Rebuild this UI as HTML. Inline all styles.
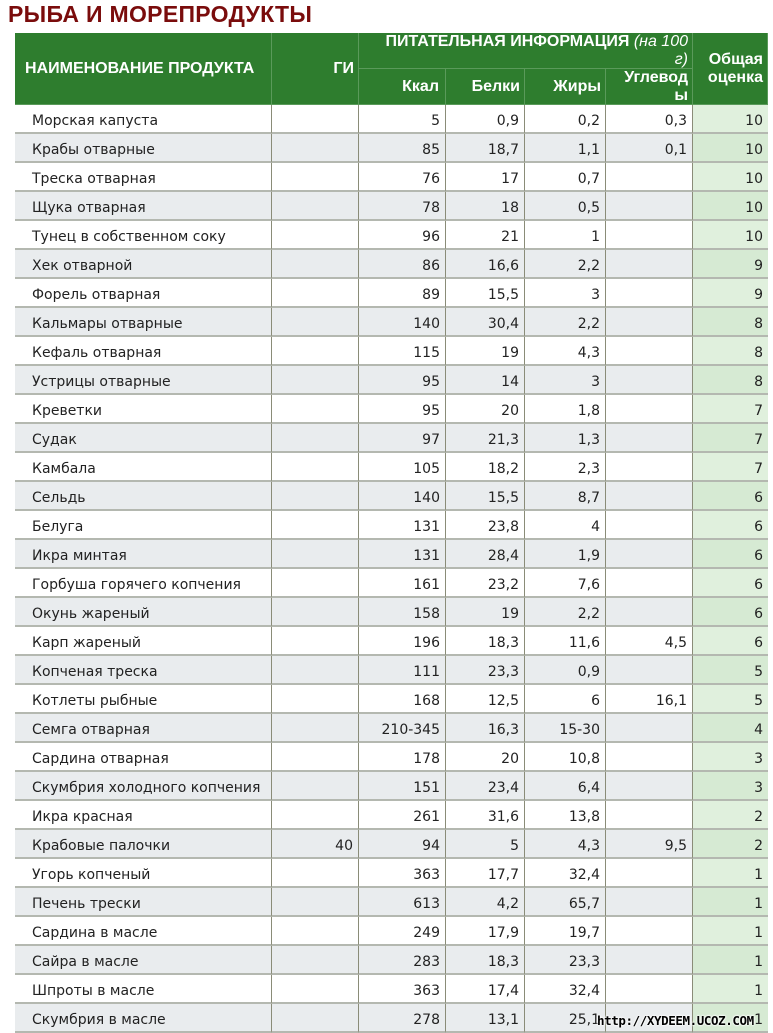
<!DOCTYPE html>
<html><head><meta charset="utf-8">
<style>
body{margin:0;width:773px;height:1031px;overflow:hidden;background:#fff;position:relative;font-family:"DejaVu Sans","Liberation Sans",sans-serif}
#title{position:absolute;left:8px;top:1px;font:bold 23px "Liberation Sans",sans-serif;color:#7a0c0c;letter-spacing:0.3px}
.hd{position:absolute;background:#2e7d2e;color:#fff;font:bold 16px "Liberation Sans",sans-serif;box-sizing:border-box;border-right:1px solid #5a9a5a;border-bottom:1px solid #5a9a5a;white-space:nowrap}
.c{position:absolute;box-sizing:border-box;height:29px;padding-top:4px;line-height:25px;font-size:14px;color:#222;border-bottom:2px solid #b4b8b0;border-right:1px solid #8a8c78;padding-left:5px;padding-right:5px;white-space:nowrap;overflow:hidden}
#wm{position:absolute;left:597px;top:1013px;font:bold 12.5px "DejaVu Sans Mono",monospace;color:#000;text-shadow:0 0 2px #fff,0 0 2px #fff,0 0 2px #fff;letter-spacing:-0.4px}
</style></head><body>
<div id="title">РЫБА И МОРЕПРОДУКТЫ</div>
<div class="hd" style="left:15px;top:33px;width:257px;height:72px;padding:27px 0 0 10px">НАИМЕНОВАНИЕ ПРОДУКТА</div>
<div class="hd" style="left:272px;top:33px;width:87px;height:72px;padding:27px 4px 0 0;text-align:right">ГИ</div>
<div class="hd" style="left:359px;top:33px;width:334px;height:36px;padding:0 4px 0 10px;text-align:right;line-height:18px">ПИТАТЕЛЬНАЯ ИНФОРМАЦИЯ <i style="font-weight:normal">(на 100<br>г)</i></div>
<div class="hd" style="left:359px;top:69px;width:87px;height:36px;padding:9px 6px 0 0;text-align:right">Ккал</div>
<div class="hd" style="left:446px;top:69px;width:79px;height:36px;padding:9px 4px 0 0;text-align:right">Белки</div>
<div class="hd" style="left:525px;top:69px;width:81px;height:36px;padding:9px 4px 0 0;text-align:right">Жиры</div>
<div class="hd" style="left:606px;top:69px;width:87px;height:36px;padding:0 4px 0 0;text-align:right;line-height:18px">Углевод<br>ы</div>
<div class="hd" style="left:693px;top:33px;width:75px;height:72px;padding:18px 4px 0 0;text-align:right;line-height:18px">Общая<br>оценка</div>
<div id="rows"></div>
<div id="wm">http://XYDEEM.UCOZ.COM</div>
<script>
const names=["Морская капуста","Крабы отварные","Треска отварная","Щука отварная","Тунец в собственном соку","Хек отварной","Форель отварная","Кальмары отварные","Кефаль отварная","Устрицы отварные","Креветки","Судак","Камбала","Сельдь","Белуга","Икра минтая","Горбуша горячего копчения","Окунь жареный","Карп жареный","Копченая треска","Котлеты рыбные","Семга отварная","Сардина отварная","Скумбрия холодного копчения","Икра красная","Крабовые палочки","Угорь копченый","Печень трески","Сардина в масле","Сайра в масле","Шпроты в масле","Скумбрия в масле"];
const gi=["","","","","","","","","","","","","","","","","","","","","","","","","","40","","","","","",""];
const kcal=["5","85","76","78","96","86","89","140","115","95","95","97","105","140","131","131","161","158","196","111","168","210-345","178","151","261","94","363","613","249","283","363","278"];
const protein=["0,9","18,7","17","18","21","16,6","15,5","30,4","19","14","20","21,3","18,2","15,5","23,8","28,4","23,2","19","18,3","23,3","12,5","16,3","20","23,4","31,6","5","17,7","4,2","17,9","18,3","17,4","13,1"];
const fat=["0,2","1,1","0,7","0,5","1","2,2","3","2,2","4,3","3","1,8","1,3","2,3","8,7","4","1,9","7,6","2,2","11,6","0,9","6","15-30","10,8","6,4","13,8","4,3","32,4","65,7","19,7","23,3","32,4","25,1"];
const carbs=["0,3","0,1","","","","","","","","","","","","","","","","","4,5","","16,1","","","","","9,5","","","","","",""];
const score=["10","10","10","10","10","9","9","8","8","8","7","7","7","6","6","6","6","6","6","5","5","4","3","3","2","2","1","1","1","1","1","1"];
const cols=[[15,257,"left"],[272,87,"right"],[359,87,"right"],[446,79,"right"],[525,81,"right"],[606,87,"right"],[693,75,"right"]];
const colNames=["name","gi","kcal","protein","fat","carbs","score"];
const wrap=document.getElementById('rows');
names.forEach((n,i)=>{
  const vals=[n,gi[i],kcal[i],protein[i],fat[i],carbs[i],score[i]];
  const top=105+29*i;
  const bg=i%2?"#e9ecee":"#fff";
  vals.forEach((v,j)=>{
    const d=document.createElement('div');
    d.className='c';
    
    
    d.style.left=cols[j][0]+'px';d.style.top=top+'px';d.style.width=cols[j][1]+'px';
    d.style.textAlign=cols[j][2];
    d.style.background=j===6?(i%2?"#d6ead3":"#e0f0dd"):bg;
    if(j===0)d.style.paddingLeft='17px';
    if(j===6)d.style.borderRight='none';
    d.textContent=v;
    wrap.appendChild(d);
  });
});
</script>
</body></html>
